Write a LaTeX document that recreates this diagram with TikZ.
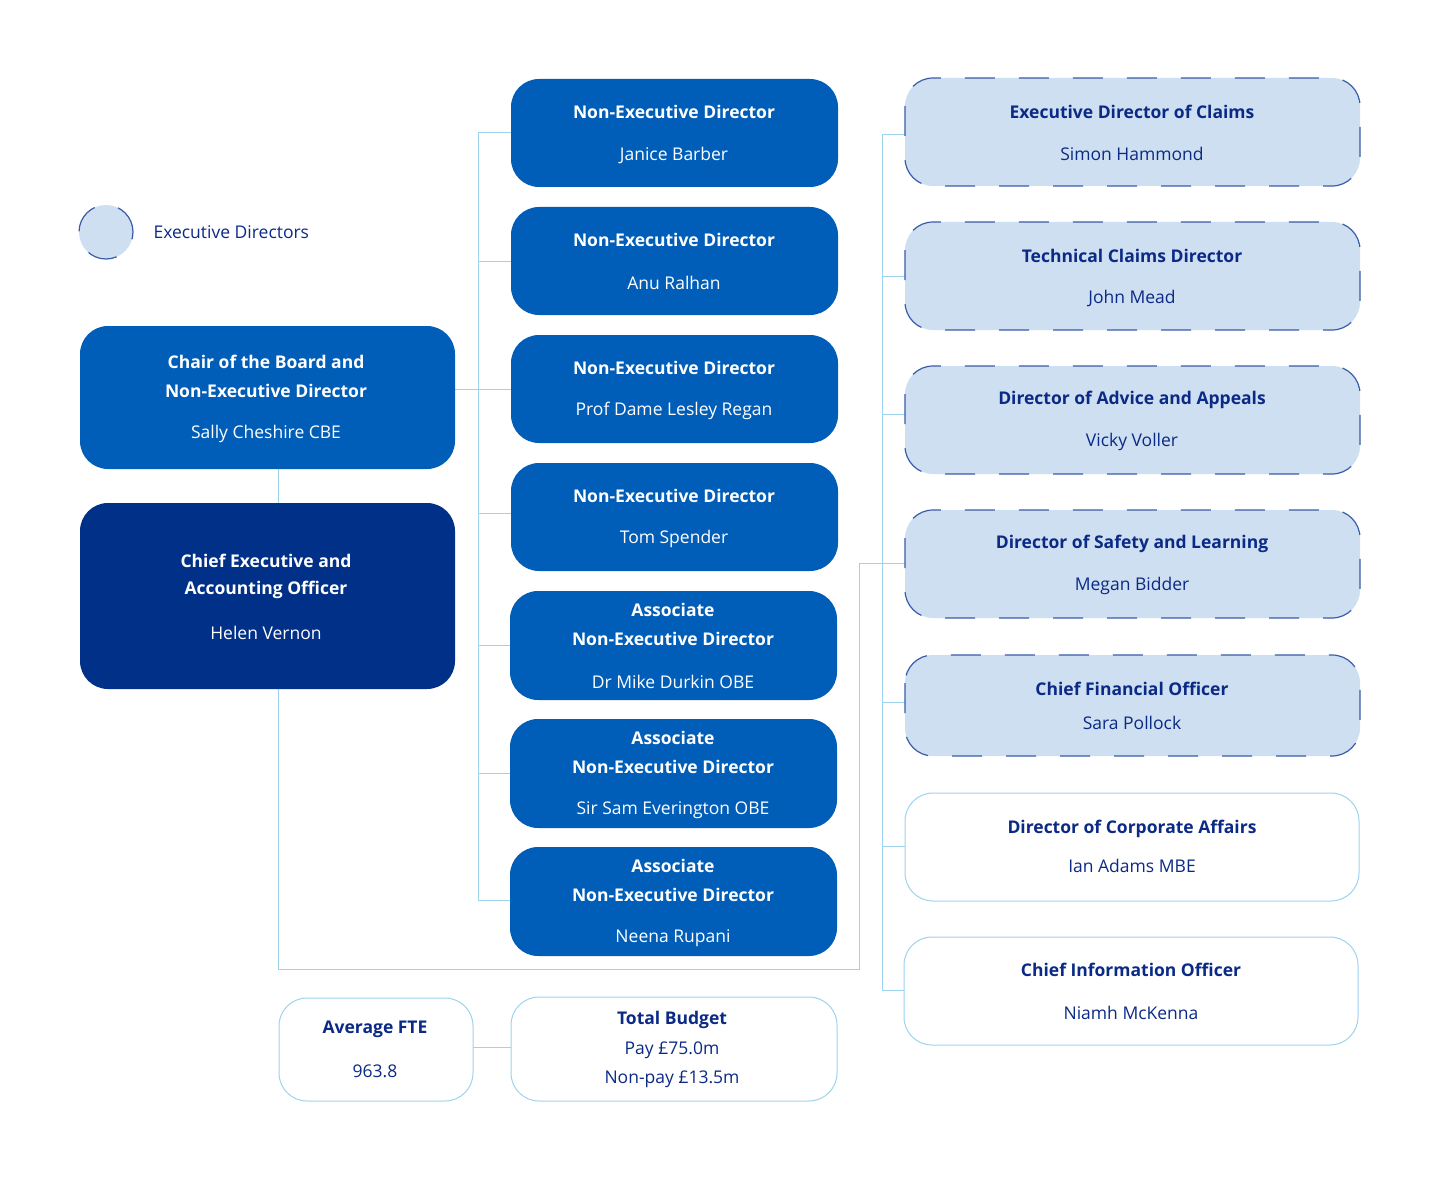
\documentclass[tikz,border=0pt]{standalone}
\usepackage{fontspec}
\setmainfont{Open Sans}
\definecolor{ned}{HTML}{005EB8}
\definecolor{ce}{HTML}{003087}
\definecolor{lite}{HTML}{CDDFF0}
\definecolor{dash}{HTML}{3A5BA8}
\definecolor{ln}{HTML}{9ED3EE}
\definecolor{txt}{HTML}{0B2A86}
\begin{document}
\begin{tikzpicture}[x=1pt,y=-1pt,
 box/.style={rounded corners=28pt},
 nedb/.style={box,fill=ned},
 exb/.style={box,fill=lite,draw=dash,line width=1.2pt,dash pattern=on 30pt off 24pt},
 wb/.style={box,draw=ln,line width=1pt,fill=white},
 t/.style={font=\fontsize{17.5}{21}\selectfont\bfseries,anchor=center},
 n/.style={font=\fontsize{17.5}{21}\selectfont,anchor=center},
 con/.style={draw=ln,line width=1pt}]
\useasboundingbox (0,0) rectangle (1440,1177);
% connectors
\coordinate (lv1) at (478,133); \coordinate (lv2) at (478,900);
\draw[con] (lv1) -- (lv2);
\draw[con] (455,389) -- (478,389);
\draw[con] (278,469) -- (278,503);
\draw[con] (278,689) -- (278,969) -- (859,969) -- (859,563) -- (907,563);
\draw[con] (882,135) -- (882,990);
\foreach \y in {133,261,389,513,645,773,900} \draw[con] (478,\y) -- (512,\y);
\foreach \y in {135,276,414,563,702,846,990} \draw[con] (882,\y) -- (906,\y);
\draw[con] (473,1047) -- (511,1047);
% legend
\node[circle,minimum size=54pt,fill=lite,draw=dash,line width=1.2pt,dash pattern=on 30pt off 24pt] (lg) at (106,232) {};
\node[anchor=west,text=txt,font=\fontsize{17.5}{21}\selectfont] (lgt) at (150,232) {Executive Directors};
% chair & CE
\fill[nedb] (80,326) rectangle (455,469);
\node[t,text=white] (ch) at (266,362) {Chair of the Board and};
\node[t,text=white] at (266,391) {Non-Executive Director};
\node[n,text=white] at (266,434) {Sally Cheshire CBE};
\fill[box,fill=ce] (80,503) rectangle (455,689);
\node[t,text=white] (cex) at (266,561) {Chief Executive and};
\node[t,text=white] at (266,590) {Accounting Officer};
\node[n,text=white] at (266,633) {Helen Vernon};
% NEDs
\foreach \y/\nm in {79/Janice Barber,207/Anu Ralhan,335/Prof Dame Lesley Regan,463/Tom Spender}{
 \fill[nedb] (511,\y) rectangle (838,\y+108);
 \node[t,text=white] at (674,\y+33) {Non-Executive Director};
 \node[n,text=white] at (674,\y+76) {\nm};}
\foreach \y/\nm in {591/Dr Mike Durkin OBE,719/Sir Sam Everington OBE,847/Neena Rupani}{
 \fill[nedb] (510,\y) rectangle (837,\y+109);
 \node[t,text=white] at (673,\y+19) {Associate};
 \node[t,text=white] at (673,\y+48) {Non-Executive Director};
 \node[n,text=white] at (673,\y+91) {\nm};}
% right
\foreach \y/\tt/\nm in {78/Executive Director of Claims/Simon Hammond,222/Technical Claims Director/John Mead,366/Director of Advice and Appeals/Vicky Voller,510/Director of Safety and Learning/Megan Bidder}{
 \draw[exb] (905,\y) rectangle (1360,\y+108);
 \node[t,text=txt] at (1132,\y+34) {\tt};
 \node[n,text=txt] at (1132,\y+76) {\nm};}
\draw[exb] (905,655) rectangle (1360,756);
\node[t,text=txt] at (1132,689) {Chief Financial Officer};
\node[n,text=txt] at (1132,723) {Sara Pollock};
\draw[wb] (905,793) rectangle (1359,901);
\node[t,text=txt] at (1132,829) {Director of Corporate Affairs};
\node[n,text=txt] at (1132,866) {Ian Adams MBE};
\draw[wb] (904,937) rectangle (1358,1045);
\node[t,text=txt] at (1131,970) {Chief Information Officer};
\node[n,text=txt] at (1131,1013) {Niamh McKenna};
% bottom
\draw[wb] (279,998) rectangle (473,1101);
\node[t,text=txt] at (375,1029) {Average FTE};
\node[n,text=txt] at (375,1071) {963.8};
\draw[wb] (511,997) rectangle (837,1101);
\node[t,text=txt] at (672,1020) {Total Budget};
\node[n,text=txt] at (672,1050) {Pay £75.0m};
\node[n,text=txt] at (672,1079) {Non-pay £13.5m};
\end{tikzpicture}
\end{document}
